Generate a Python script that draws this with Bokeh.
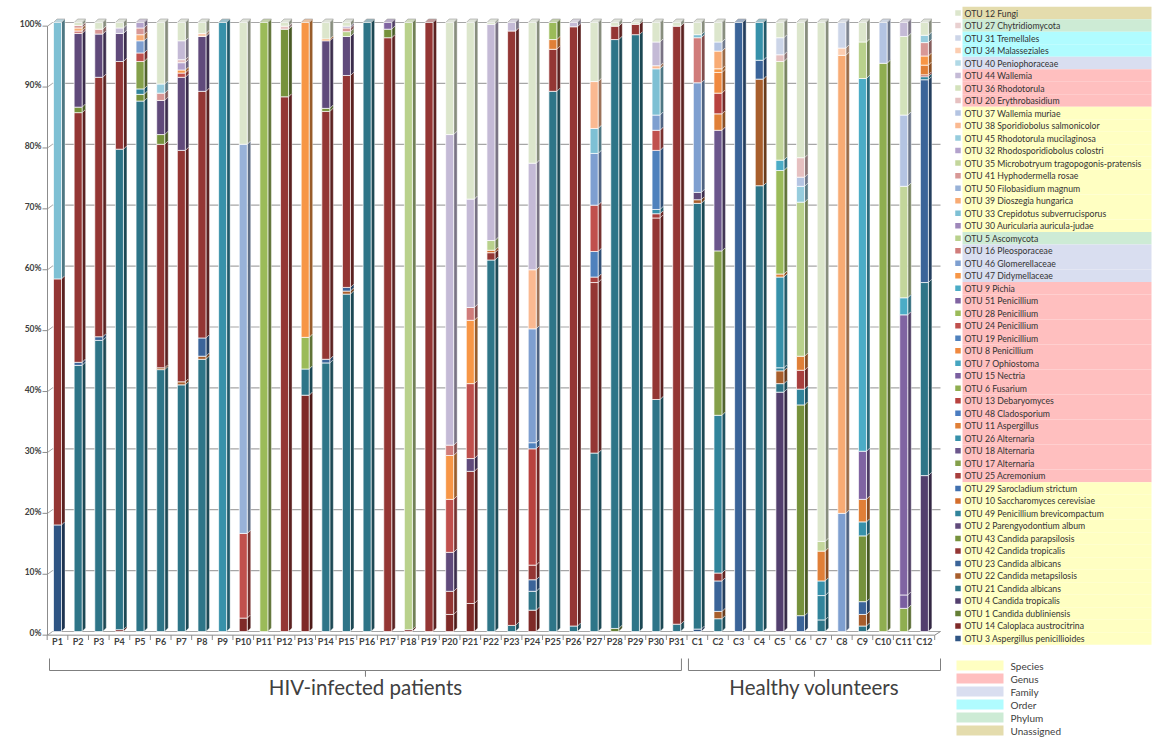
from bokeh.plotting import figure
from bokeh.models import ColumnDataSource, Range1d
from bokeh.layouts import row
from bokeh.embed import file_html
from bokeh.resources import INLINE
from bokeh.core.properties import value

# ---------------- data ----------------
samples = [f"P{i}" for i in range(1, 32)] + [f"C{i}" for i in range(1, 13)]

# stacking order, bottom -> top
otu_order = [3, 14, 1, 4, 21, 22, 23, 42, 43, 2, 49, 10, 29, 25, 17, 18, 26, 11, 48, 13,
             6, 15, 7, 8, 19, 24, 28, 51, 9, 47, 46, 16, 5, 30, 33, 39, 50, 41, 35, 32,
             45, 38, 37, 20, 36, 44, 40, 34, 31, 27, 12]
otu_colors = ["#2F5584", "#7F2A28", "#657F35", "#533F6E", "#2E7588", "#A85E2C", "#3B6499",
              "#943634", "#76923C", "#604A7B", "#31849B", "#D46E2C", "#4170AF", "#A83F3D",
              "#84A04A", "#6B568C", "#3791AA", "#E07F37", "#4A7CC0", "#B8423F", "#8FAE50",
              "#7A5FA0", "#45A5C0", "#F0893F", "#4F81BD", "#C0504D", "#9BBB59", "#8064A2",
              "#4BACC6", "#F79646", "#7E9FD0", "#D07C7A", "#B9D18C", "#9E87BA", "#7EC0D4",
              "#F8AB74", "#98B2D8", "#D89896", "#C3D69B", "#B3A2CC", "#96CCDD", "#FAB991",
              "#B4C4E2", "#E6C0C0", "#D3E2BB", "#C4BAD6", "#B0D9E6", "#FCCDB0", "#CCD5E8",
              "#E9D0D0", "#DCE6CC"]
otu_names = {
    12: "Fungi", 27: "Chytridiomycota", 31: "Tremellales", 34: "Malasseziales",
    40: "Peniophoraceae", 44: "Wallemia", 36: "Rhodotorula", 20: "Erythrobasidium",
    37: "Wallemia muriae", 38: "Sporidiobolus salmonicolor", 45: "Rhodotorula mucilaginosa",
    32: "Rhodosporidiobolus colostri", 35: "Microbotryum tragopogonis-pratensis",
    41: "Hyphodermella rosae", 50: "Filobasidium magnum", 39: "Dioszegia hungarica",
    33: "Crepidotus subverrucisporus", 30: "Auricularia auricula-judae", 5: "Ascomycota",
    16: "Pleosporaceae", 46: "Glomerellaceae", 47: "Didymellaceae", 9: "Pichia",
    51: "Penicillium", 28: "Penicillium", 24: "Penicillium", 19: "Penicillium",
    8: "Penicillium", 7: "Ophiostoma", 15: "Nectria", 6: "Fusarium", 13: "Debaryomyces",
    48: "Cladosporium", 11: "Aspergillus", 26: "Alternaria", 18: "Alternaria",
    17: "Alternaria", 25: "Acremonium", 29: "Sarocladium strictum",
    10: "Saccharomyces cerevisiae", 49: "Penicillium brevicompactum",
    2: "Parengyodontium album", 43: "Candida parapsilosis", 42: "Candida tropicalis",
    23: "Candida albicans", 22: "Candida metapsilosis", 21: "Candida albicans",
    4: "Candida tropicalis", 1: "Candida dubliniensis", 14: "Caloplaca austrocitrina",
    3: "Aspergillus penicillioides"}
# taxonomic level of each legend row, top -> bottom
legend_levels = (["Unassigned", "Phylum", "Order", "Order", "Family", "Genus", "Genus", "Genus"]
                 + ["Species"] * 10 + ["Phylum"] + ["Family"] * 3 + ["Genus"] * 16
                 + ["Species"] * 13)
level_names = ["Species", "Genus", "Family", "Order", "Phylum", "Unassigned"]
level_colors = ["#FFFFC2", "#FFBFBF", "#D9DEF0", "#B0FCFF", "#CDEBD5", "#E4DCAD"]

# relative abundance (%) per sample, OTU id -> value
P1 = {3: 17.5, 42: 40.4, 33: 42.1}
P2 = {21: 43.7, 23: 0.5, 42: 41.0, 43: 0.9, 2: 12.1, 16: 0.4, 39: 0.5, 41: 0.4, 12: 0.5}
P3 = {21: 47.8, 23: 0.6, 42: 42.6, 2: 7.1, 41: 0.8, 12: 1.1}
P4 = {14: 0.3, 21: 78.9, 42: 14.4, 2: 4.6, 44: 0.9, 12: 0.9}
P5 = {21: 87.1, 43: 1.1, 49: 0.9, 17: 4.5, 24: 1.4, 46: 2.0, 39: 1.0, 41: 1.1, 32: 0.9}
P6 = {21: 43.0, 22: 0.3, 42: 36.7, 43: 1.6, 2: 5.6, 41: 1.2, 45: 1.5, 12: 10.1}
P7 = {21: 40.5, 22: 0.5, 42: 38.0, 2: 12.0, 24: 0.7, 47: 0.5, 32: 1.2, 20: 0.5, 44: 3.1, 12: 3.0}
P8 = {21: 44.7, 22: 0.5, 23: 3.0, 42: 40.5, 2: 9.0, 34: 0.5, 12: 1.8}
P9 = {26: 100.0}
P10 = {14: 2.2, 24: 13.9, 50: 63.9, 12: 20.0}
P11 = {28: 100.0}
P12 = {42: 87.8, 43: 11.1, 20: 0.5, 12: 0.6}
P13 = {14: 38.8, 21: 4.3, 28: 5.2, 47: 51.7}
P14 = {21: 44.1, 23: 0.6, 42: 40.7, 43: 0.5, 2: 11.1, 47: 0.3, 12: 2.7}
P15 = {21: 55.4, 22: 0.5, 23: 0.6, 42: 34.8, 2: 6.4, 5: 0.8, 41: 0.6, 32: 0.3, 12: 0.6}
P16 = {21: 100.0}
P17 = {42: 97.5, 43: 1.4, 51: 1.1}
P18 = {14: 0.3, 5: 99.7}
P19 = {42: 100.0}
P20 = {14: 2.8, 42: 3.8, 2: 6.4, 24: 8.7, 47: 7.2, 16: 1.7, 44: 51.0, 12: 18.4}
P21 = {14: 4.6, 42: 21.7, 2: 2.1, 24: 12.3, 47: 10.4, 16: 2.1, 44: 17.8, 12: 29.0}
P22 = {21: 61.0, 42: 1.2, 10: 0.4, 5: 1.6, 44: 35.5, 12: 0.3}
P23 = {21: 1.0, 42: 97.6, 44: 1.4}
P24 = {14: 3.5, 21: 3.1, 23: 1.9, 42: 2.4, 13: 19.1, 19: 1.0, 46: 18.7, 38: 9.7, 44: 17.5, 12: 23.1}
P25 = {21: 88.7, 42: 6.9, 11: 1.6, 28: 2.8}
P26 = {21: 0.9, 42: 98.4, 44: 0.7}
P27 = {21: 29.3, 42: 28.0, 25: 0.9, 19: 4.2, 24: 7.6, 46: 8.5, 33: 4.1, 38: 7.7, 12: 9.7}
P28 = {1: 0.5, 21: 96.7, 42: 2.2, 12: 0.6}
P29 = {21: 98.0, 42: 1.7, 12: 0.3}
P30 = {21: 38.1, 42: 29.8, 25: 0.7, 26: 0.7, 19: 9.7, 24: 3.3, 46: 2.5, 33: 7.6, 38: 0.5, 44: 3.9, 12: 3.2}
P31 = {21: 1.2, 42: 98.2, 12: 0.6}
C1 = {3: 0.4, 21: 69.9, 22: 0.6, 2: 1.2, 46: 18.0, 16: 7.4, 33: 0.5, 12: 2.0}
C2 = {21: 2.1, 22: 1.2, 23: 5.0, 42: 1.3, 49: 25.9, 17: 27.0, 18: 19.8, 11: 2.7, 13: 3.4,
      8: 3.4, 47: 0.6, 39: 2.9, 37: 1.5, 12: 3.2}
C3 = {23: 100.0}
C4 = {21: 73.2, 22: 17.5, 23: 3.1, 26: 6.2}
C5 = {4: 39.3, 21: 1.4, 22: 2.1, 49: 0.5, 26: 14.9, 11: 0.5, 28: 17.0, 9: 1.7, 35: 16.2,
      20: 1.1, 31: 2.8, 12: 2.5}
C6 = {23: 2.6, 43: 34.6, 49: 2.6, 25: 3.1, 11: 2.3, 5: 25.3, 45: 2.6, 37: 1.5, 20: 3.2, 12: 22.2}
C7 = {21: 1.9, 49: 4.0, 26: 2.4, 11: 4.9, 35: 1.6, 12: 85.2}
C8 = {46: 19.4, 39: 75.2, 34: 1.2, 31: 4.2}
C9 = {21: 0.9, 22: 1.9, 23: 2.1, 43: 10.8, 26: 2.3, 11: 3.7, 51: 7.9, 9: 61.2, 5: 6.0, 12: 3.2}
C10 = {6: 93.3, 37: 6.7}
C11 = {6: 3.8, 15: 2.2, 51: 46.0, 9: 2.8, 35: 18.3, 37: 11.7, 36: 12.9, 44: 2.3}
C12 = {4: 25.6, 21: 31.7, 23: 33.3, 49: 0.5, 25: 0.3, 11: 1.6, 47: 1.5, 41: 2.2, 45: 1.2, 12: 2.1}

sample_values = [P1, P2, P3, P4, P5, P6, P7, P8, P9, P10, P11, P12, P13, P14, P15, P16,
                 P17, P18, P19, P20, P21, P22, P23, P24, P25, P26, P27, P28, P29, P30, P31,
                 C1, C2, C3, C4, C5, C6, C7, C8, C9, C10, C11, C12]

y_ticks = [0, 10, 20, 30, 40, 50, 60, 70, 80, 90, 100]
groups = ["HIV-infected patients", "Healthy volunteers"]

# ---------------- geometry (screen layout) ----------------
ORG = 0                    # page offset of the layout
PX0, DX = 57.0, 20.64      # page x of first bar, bar spacing (px)
PY0, DY = 631.0, 6.09      # page y of 0 %, px per %
W1, W2, H = 950, 207, 738


def ux(px):
    return (px - PX0) / DX


def uy(py):
    return (PY0 - py) / DY


BW = 8.0 / DX
DXD = 3.5 / DX
DYD = 3.5 / DY
FONT = value("Lato")
TXT = "#404040"


def shade(c, f):
    r, g, b = int(c[1:3], 16), int(c[3:5], 16), int(c[5:7], 16)
    return "#%02x%02x%02x" % (int(r * f), int(g * f), int(b * f))


def blend(c, c2, t):
    r, g, b = int(c[1:3], 16), int(c[3:5], 16), int(c[5:7], 16)
    r2, g2, b2 = int(c2[1:3], 16), int(c2[3:5], 16), int(c2[5:7], 16)
    return "#%02x%02x%02x" % (int(r + (r2 - r) * t), int(g + (g2 - g) * t), int(b + (b2 - b) * t))


color_of = dict(zip(otu_order, otu_colors))

p = figure(width=W1, height=H, output_backend="svg", toolbar_location=None,
           x_range=Range1d(ux(ORG), ux(ORG + W1)), y_range=Range1d(uy(ORG + H), uy(ORG)),
           min_border=0)
p.xaxis.visible = False
p.yaxis.visible = False
p.grid.visible = False
p.outline_line_color = None
p.background_fill_color = "white"
p.border_fill_color = "white"

# back wall gridlines + left diagonals and ticks
gx0, gx1 = ux(52), ux(940)
p.segment(x0=[gx0] * len(y_ticks), x1=[gx1] * len(y_ticks), y0=y_ticks, y1=y_ticks,
          line_color="#A6A6A6", line_width=1.2)
p.segment(x0=[ux(47)] * len(y_ticks), x1=[gx0] * len(y_ticks),
          y0=[v - 0.6 for v in y_ticks], y1=y_ticks, line_color="#A6A6A6", line_width=1)
p.segment(x0=[ux(42)] * len(y_ticks), x1=[ux(47)] * len(y_ticks),
          y0=[v - 0.6 for v in y_ticks], y1=[v - 0.6 for v in y_ticks],
          line_color="#8C8C8C", line_width=1)
p.segment(x0=[ux(47)], x1=[ux(47)], y0=[-0.6], y1=[99.4], line_color="#8C8C8C", line_width=1)
p.text(x=[ux(41)] * len(y_ticks), y=[v - 0.3 for v in y_ticks], text=[f"{v}%" for v in y_ticks],
       text_font=FONT, text_font_size="8.5px", text_font_style="bold", text_color=TXT,
       text_align="right", text_baseline="middle")

# floor front edge and category ticks
n = len(samples)
p.segment(x0=[ux(47)], x1=[n - 1 + 0.5], y0=[-0.6], y1=[-0.6], line_color="#8C8C8C", line_width=1)
p.segment(x0=[n - 1 + 0.5], x1=[gx1], y0=[-0.6], y1=[0], line_color="#8C8C8C", line_width=1)
tick_x = [i + 0.5 for i in range(-1, n)]
p.segment(x0=tick_x, x1=tick_x, y0=[-0.6] * len(tick_x), y1=[-1.4] * len(tick_x),
          line_color="#8C8C8C", line_width=1)

# bars
fx, fb, ft, fc = [], [], [], []
sxs, sys, scs = [], [], []
txs, tys, tcs = [], [], []
for i, vals in enumerate(sample_values):
    cum = 0.0
    last = None
    for otu, col in zip(otu_order, otu_colors):
        v = vals.get(otu, 0.0)
        if v <= 0:
            continue
        b, t = cum, cum + v
        fx.append(i); fb.append(b); ft.append(t); fc.append(col)
        xr = i + BW / 2
        sxs.append([xr, xr + DXD, xr + DXD, xr])
        sys.append([b, b + DYD, t + DYD, t])
        scs.append(shade(col, 0.62))
        cum = t
        last = col
    xl, xr = i - BW / 2, i + BW / 2
    txs.append([xl, xr, xr + DXD, xl + DXD])
    tys.append([cum, cum, cum + DYD, cum + DYD])
    tcs.append(blend(last, "#E4E4E4", 0.6))

p.patches(xs=sxs, ys=sys, fill_color=scs, line_color="white", line_width=0.5, line_alpha=0.8)
p.patches(xs=txs, ys=tys, fill_color=tcs, line_color="#9A9A9A", line_width=0.6)
src = ColumnDataSource(dict(x=fx, bottom=fb, top=ft, color=fc))
p.vbar(x="x", bottom="bottom", top="top", width=BW, fill_color="color", source=src,
       line_color="white", line_width=0.7)

# category labels
p.text(x=list(range(n)), y=[uy(641)] * n, text=samples, text_font=FONT,
       text_font_size="9px", text_font_style="bold", text_color=TXT,
       text_align="center", text_baseline="middle")

# group brackets
n_hiv = sum(1 for s in samples if s.startswith("P"))
spans = [(ux(49), n_hiv - 1 + 0.23), (n_hiv - 1 + 0.57, ux(940))]
ye, yh, yn = uy(658), uy(670), uy(676)
for (a, b) in spans:
    m = (a + b) / 2
    p.line(x=[a, a, m, m, m, b, b], y=[ye, yh, yh, yn, yh, yh, ye], line_color="#7F7F7F", line_width=1)
p.text(x=[(a + b) / 2 for a, b in spans], y=[uy(686)] * 2, text=groups, text_font=FONT,
       text_font_size="20.5px", text_color=TXT, text_align="center", text_baseline="middle")

# ---------------- legend ----------------
q = figure(width=W2, height=H, output_backend="svg", toolbar_location=None,
           x_range=Range1d(ORG + W1, ORG + W1 + W2), y_range=Range1d(ORG + H, ORG), min_border=0)
q.xaxis.visible = False
q.yaxis.visible = False
q.grid.visible = False
q.outline_line_color = None
q.background_fill_color = "white"
q.border_fill_color = "white"

leg_ids = otu_order[::-1]
R0, RH = 12.5, 12.51
rows_y = [R0 + k * RH for k in range(len(leg_ids))]
lvl_col = dict(zip(level_names, level_colors))
q.quad(left=[962] * len(rows_y), right=[1151] * len(rows_y),
       top=[y - RH / 2 for y in rows_y], bottom=[y + RH / 2 for y in rows_y],
       fill_color=[lvl_col[l] for l in legend_levels], line_color=None)
q.rect(x=[957.5] * len(rows_y), y=rows_y, width=5.5, height=5.5,
       fill_color=[color_of[o] for o in leg_ids], line_color=None)
q.text(x=[964] * len(rows_y), y=rows_y, text=[f"OTU {o} {otu_names[o]}" for o in leg_ids],
       text_font=FONT, text_font_size="8.7px", text_color="#333333",
       text_align="left", text_baseline="middle")

ly = [665 + 13.0 * k for k in range(len(level_names))]
q.quad(left=[956] * 6, right=[1003] * 6, top=[y - 5 for y in ly], bottom=[y + 5 for y in ly],
       fill_color=level_colors, line_color=None)
q.text(x=[1010] * 6, y=ly, text=level_names, text_font=FONT, text_font_size="10px",
       text_color=TXT, text_align="left", text_baseline="middle")

layout = row(p, q, spacing=0)
open("out.html", "w").write(file_html(layout, INLINE))
